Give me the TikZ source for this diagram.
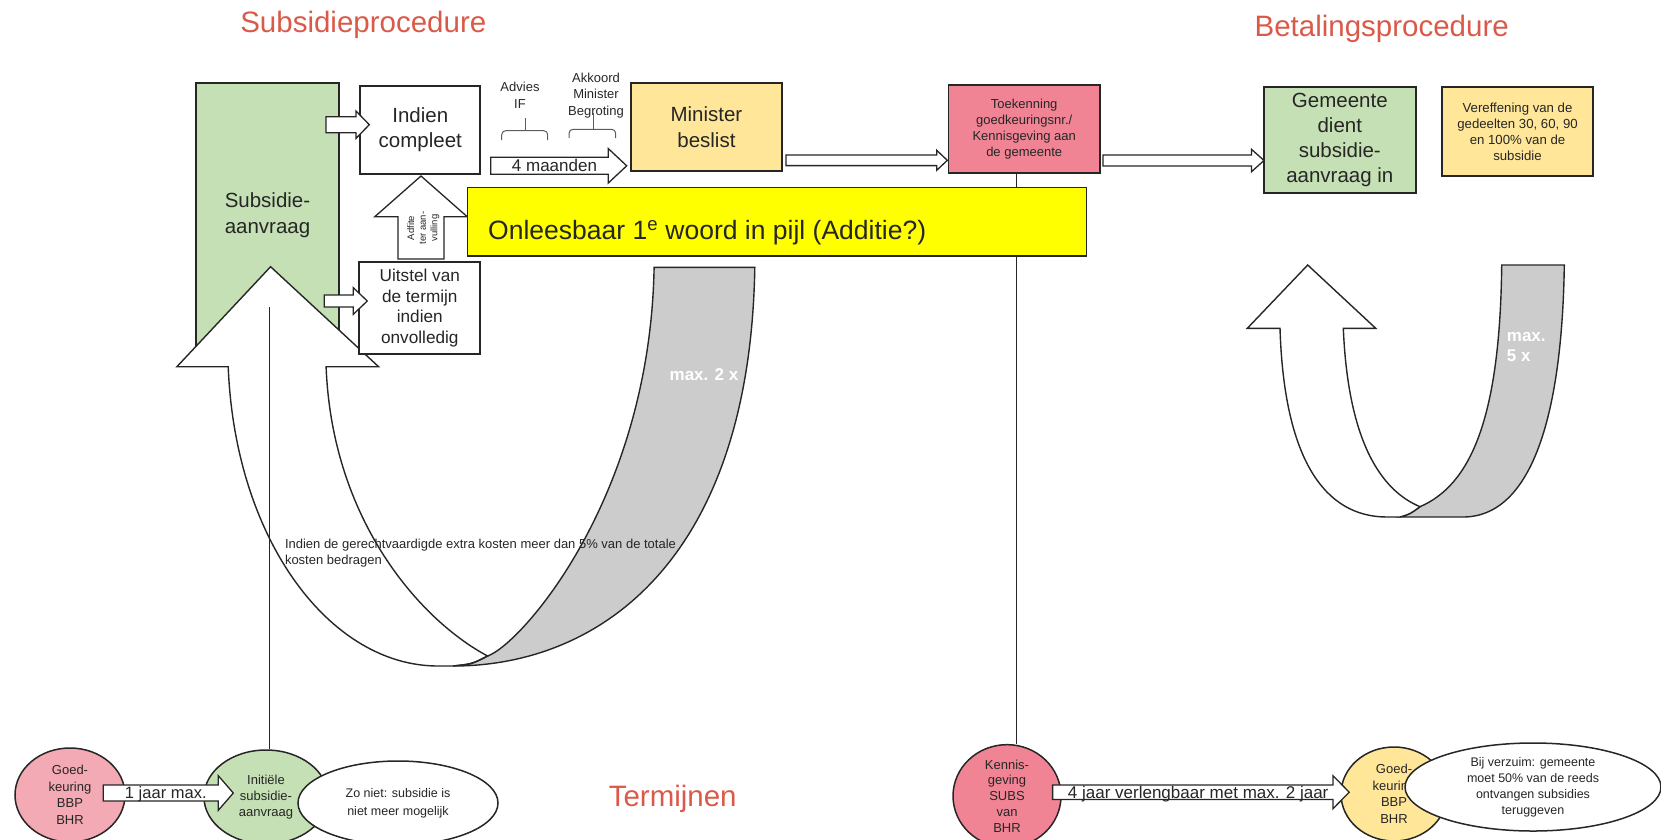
\documentclass[tikz,border=0pt]{standalone}
\usepackage{fontspec}
\setmainfont{Liberation Sans}
\usetikzlibrary{calc,shapes.geometric}

\definecolor{titlered}{RGB}{218,90,74}
\definecolor{boxgreen}{RGB}{197,224,180}
\definecolor{boxorange}{RGB}{255,230,153}
\definecolor{boxpink}{RGB}{240,132,148}
\definecolor{softpink}{RGB}{244,170,180}
\definecolor{ribbongray}{RGB}{204,204,204}
\definecolor{remarkyellow}{RGB}{255,255,0}
\definecolor{ink}{RGB}{38,38,38}

\newcommand{\setfs}[2]{\fontsize{#1}{#2}\selectfont}
% horizontal block arrow: start, tip, shaft half height, head half height, head length
\newcommand{\hblockarrow}[6][]{%
  \path[blockarrow,#1] let \p1=#2, \p2=#3 in
    (\x1,\y1+#4) -- (\x2-#6,\y1+#4) -- (\x2-#6,\y1+#5) -- (\x2,\y1)
    -- (\x2-#6,\y1-#5) -- (\x2-#6,\y1-#4) -- (\x1,\y1-#4) -- cycle;}
% vertical block arrow pointing up: foot, tip, shaft half width, head half width, head length
\newcommand{\vblockarrow}[6][]{%
  \path[blockarrow,#1] let \p1=#2, \p2=#3 in
    (\x1-#4,\y1) -- (\x1-#4,\y2-#6) -- (\x1-#5,\y2-#6) -- (\x1,\y2)
    -- (\x1+#5,\y2-#6) -- (\x1+#4,\y2-#6) -- (\x1+#4,\y1) -- cycle;}

\tikzset{
  box/.style={draw=ink, line width=1.8pt, inner sep=0pt, align=center, text=ink},
  oval/.style={ellipse, draw=ink, line width=1.5pt, inner sep=0pt, align=center, text=ink},
  blockarrow/.style={draw=ink, line width=1.3pt, fill=white, line join=miter},
  ribbon/.style={draw=ink, line width=1.4pt, line join=miter},
  thinline/.style={draw=ink, line width=0.9pt},
  bracket/.style={draw=ink!75, line width=1pt},
  heading/.style={text=titlered, font=\setfs{29.5}{35}, inner sep=0pt, anchor=base},
  note/.style={text=ink, inner sep=0pt, align=center},
  ribbontext/.style={text=white, font=\bfseries\setfs{17}{20}, inner sep=0pt, align=left},
}

\begin{document}
\begin{tikzpicture}[x=1pt, y=-1pt]
\useasboundingbox (0,0) rectangle (1661,839);

% headings
\node[heading] (h1) at (363.3,32.7) {Subsidieprocedure};
\node[heading] (h2) at (1381.7,36) {Betalingsprocedure};
\node[heading] (h3) at (672.7,806) {Termijnen};

% application column
\node[box, fill=boxgreen, minimum width=143.6pt, minimum height=263.7pt,
      font=\setfs{20.5}{25.7}] (aanvraag) at (267.5,215.2) {Subsidie-\\aanvraag};

% return loop of the procedure: fills first, text, then outlines
\path[fill=ribbongray] (654.1,267.3) -- (754.8,267.3)
  .. controls (750,560) and (600,666) .. (453,666)
  .. controls (472,664) .. (487.6,656)
  .. controls (520,645) and (650,500) .. (654.1,267.3) -- cycle;
\path[fill=white] (176.9,366.7) -- (270.6,266.7) -- (378.6,366.7) -- (326.1,366.7)
  .. controls (332,520) and (420,620) .. (487.6,656)
  .. controls (472,664) .. (453,666) -- (438,666)
  .. controls (330,666) and (235,540) .. (228.2,366.7) -- cycle;
\node[note, align=left, anchor=north west, font=\setfs{13}{16}] (extra) at (284.8,538.8)
  {Indien de gerechtvaardigde extra kosten meer dan 5\% van de totale\\kosten bedragen};
\path[ribbon] (654.1,267.3) -- (754.8,267.3)
  .. controls (750,560) and (600,666) .. (453,666)
  .. controls (472,664) .. (487.6,656)
  .. controls (520,645) and (650,500) .. (654.1,267.3) -- cycle;
\path[ribbon] (176.9,366.7) -- (270.6,266.7) -- (378.6,366.7) -- (326.1,366.7)
  .. controls (332,520) and (420,620) .. (487.6,656)
  .. controls (472,664) .. (453,666) -- (438,666)
  .. controls (330,666) and (235,540) .. (228.2,366.7) -- cycle;
\node[ribbontext] (max2) at (704,380) [anchor=base] {max. 2 x};

% boxes next to the application
\node[box, fill=white, minimum width=120pt, minimum height=88.6pt,
      font=\setfs{20.5}{25}] (compleet) at (420.3,130) {Indien\\compleet};
\node[box, fill=white, minimum width=121pt, minimum height=91.4pt,
      font=\setfs{17.2}{20.6}] (uitstel) at (419.8,308) {Uitstel van\\de termijn\\indien\\onvolledig};

\coordinate (a1s) at (326,124.7);  \coordinate (a1e) at (369.3,124.7);
\coordinate (a2s) at (324.3,301);  \coordinate (a2e) at (367.3,301);
\hblockarrow{(a1s)}{(a1e)}{8pt}{13.7pt}{13.3pt}
\hblockarrow{(a2s)}{(a2e)}{6pt}{13.3pt}{14pt}

\coordinate (adfoot) at (421,259); \coordinate (adtip) at (421,176);
\vblockarrow{(adfoot)}{(adtip)}{23pt}{46.2pt}{40.7pt}
\node[note, rotate=90, font=\setfs{9.5}{11.6}] (adfite) at (423.3,228) {Adfite\\ter aan-\\vulling};

% advice steps
\node[note, font=\setfs{13}{17}] (advies) at (520,95.5) {Advies\\IF};
\node[note, font=\setfs{13}{16.4}] (akkoord) at (596,95.5) {Akkoord\\Minister\\Begroting};
\draw[bracket, rounded corners=4pt] (501.7,140) -- (501.7,130.7) -- (547.7,130.7) -- (547.7,140);
\draw[bracket] (525,130.7) -- (525,118);
\draw[bracket, rounded corners=4pt] (569,138) -- (569,129.3) -- (615.7,129.3) -- (615.7,138);
\draw[bracket] (593,129.3) -- (593,113);

\coordinate (m4s) at (490.7,165.8); \coordinate (m4e) at (626.7,165.8);
\hblockarrow{(m4s)}{(m4e)}{8.5pt}{17.2pt}{18.4pt}
\node[note, font=\setfs{17}{20}, anchor=base] (maanden) at (554.5,171.7) {4 maanden};

\node[box, fill=boxorange, minimum width=150.7pt, minimum height=87.7pt,
      font=\setfs{20.5}{26}] (minister) at (706.4,127.2) {Minister\\beslist};

\node[box, fill=boxpink, minimum width=151.5pt, minimum height=88.6pt,
      font=\setfs{13}{16}] (toekenning) at (1024.2,129)
      {Toekenning\\goedkeuringsnr./\\Kennisgeving aan\\de gemeente};

% link from the award to its notification date
\coordinate (kline) at (1016.6,0);
\node[oval, fill=boxpink, minimum width=108pt, minimum height=96pt,
      font=\setfs{13}{15.8}] (kennis) at (1007,796) {Kennis-\\geving\\SUBS\\van\\BHR};
\draw[thinline] (kline |- toekenning.south) -- (kline |- kennis.north);

% highlighted remark
\node[draw=ink, line width=1.4pt, fill=remarkyellow, minimum width=619pt, minimum height=68.3pt,
      inner sep=0pt] (remark) at (776.8,221.9) {};
\node[note, font=\setfs{26.5}{30}, anchor=base west] (remarktext) at (488,239.5)
  {Onleesbaar 1\textsuperscript{e} woord in pijl (Additie?)};

\coordinate (ms) at (786,160.3);    \coordinate (me) at (947.3,160.3);
\coordinate (ts) at (1102.9,160.5); \coordinate (te) at (1264,160.5);
\hblockarrow{(ms)}{(me)}{5.3pt}{10pt}{10.6pt}
\hblockarrow{(ts)}{(te)}{5.5pt}{11.2pt}{12.5pt}

% payment procedure
\node[box, fill=boxgreen, minimum width=151.6pt, minimum height=105.4pt,
      font=\setfs{20.5}{25}] (gemeente) at (1339.8,140) {Gemeente\\dient\\subsidie-\\aanvraag in};
\node[box, fill=boxorange, minimum width=151.5pt, minimum height=88.7pt,
      font=\setfs{13.2}{16}] (vereffening) at (1517.5,131.7)
      {Vereffening van de\\gedeelten 30, 60, 90\\en 100\% van de\\subsidie};

\path[ribbon, fill=ribbongray] (1501.7,265) -- (1564.3,265)
  .. controls (1562,420) and (1530,517) .. (1463,517) -- (1400,517)
  .. controls (1410,514) .. (1420,506.7)
  .. controls (1470,485) and (1500,420) .. (1501.7,265) -- cycle;
\path[ribbon, fill=white] (1247.3,328.3) -- (1307.7,265) -- (1375.7,328.3) -- (1343.3,328.3)
  .. controls (1348,440) and (1380,490) .. (1420,506.7)
  .. controls (1410,514) .. (1400,517) -- (1387,517)
  .. controls (1325,517) and (1284,460) .. (1280,328.3) -- cycle;
\node[ribbontext, anchor=west] (max5) at (1506.7,347) {max.\\5 x};

% time limits
\node[oval, fill=softpink, minimum width=110pt, minimum height=94pt,
      font=\setfs{13}{16.5}] (goed1) at (70,795) {Goed-\\keuring\\BBP\\BHR};
\node[oval, fill=boxgreen, minimum width=124pt, minimum height=94pt,
      font=\setfs{13}{16}] (initieel) at (266,797) {Initiële\\subsidie-\\aanvraag};
\node[oval, fill=white, minimum width=200pt, minimum height=84pt,
      font=\setfs{12.5}{17.7}] (zoniet) at (398,803) {Zo niet: subsidie is\\niet meer mogelijk};
\coordinate (j1s) at (103.3,793); \coordinate (j1e) at (233.3,793);
\hblockarrow{(j1s)}{(j1e)}{8pt}{17.3pt}{15pt}
\node[note, font=\setfs{16.5}{20}, anchor=base] (jaar1) at (165.8,798.3) {1 jaar max.};

\coordinate (lline) at (269.5,307);
\draw[thinline] (lline) -- (lline |- initieel.north);

\node[oval, fill=boxorange, minimum width=106pt, minimum height=94pt,
      font=\setfs{13}{16.5}] (goed2) at (1394,794) {Goed-\\keuring\\BBP\\BHR};
\node[oval, fill=white, minimum width=256pt, minimum height=88pt,
      font=\setfs{12.5}{16}] (verzuim) at (1533,787)
      {Bij verzuim: gemeente\\moet 50\% van de reeds\\ontvangen subsidies\\teruggeven};
\coordinate (j4s) at (1052.6,792.2); \coordinate (j4e) at (1349.2,792.2);
\hblockarrow{(j4s)}{(j4e)}{7.2pt}{16.5pt}{16.2pt}
\node[note, font=\setfs{17}{20}, anchor=base] (jaar4) at (1198.2,798.3) {4 jaar verlengbaar met max. 2 jaar};

\end{tikzpicture}
\end{document}
